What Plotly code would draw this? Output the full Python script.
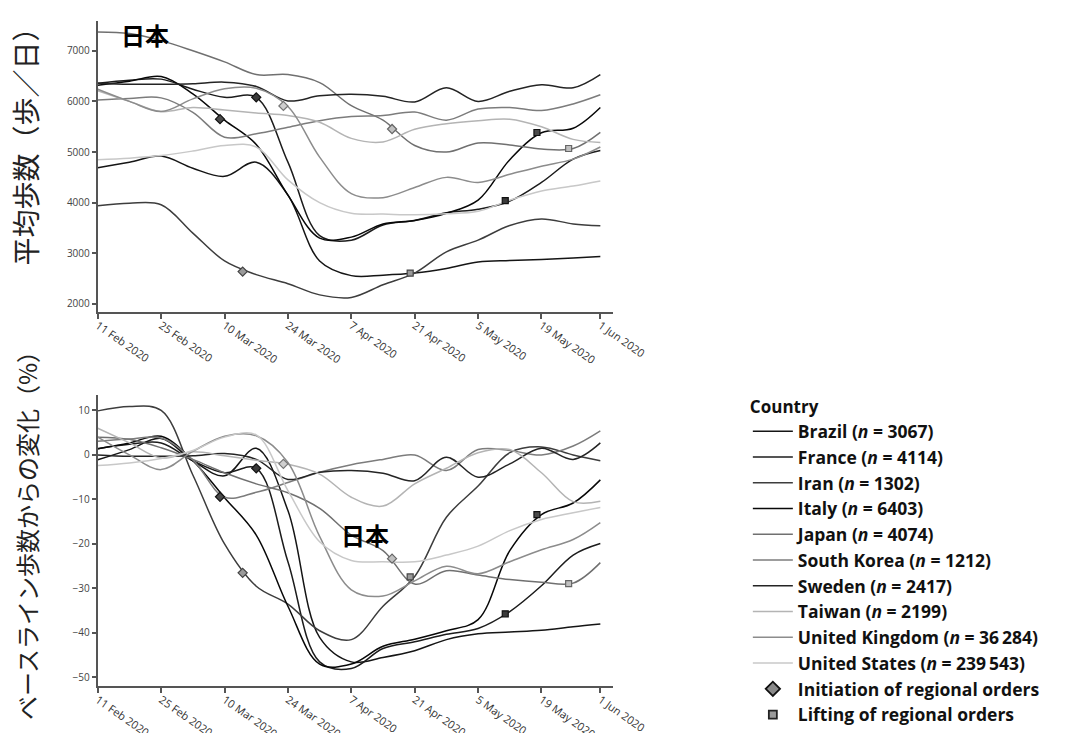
import plotly.graph_objects as go
from plotly.subplots import make_subplots

# ---------------- data ----------------
dates = ["2020-02-11", "2020-02-18", "2020-02-25", "2020-03-03", "2020-03-10", "2020-03-17",
         "2020-03-24", "2020-03-31", "2020-04-07", "2020-04-14", "2020-04-21", "2020-04-28",
         "2020-05-05", "2020-05-12", "2020-05-19", "2020-05-26", "2020-06-01"]

countries = ["Brazil", "France", "Iran", "Italy", "Japan", "South Korea", "Sweden",
             "Taiwan", "United Kingdom", "United States"]
sample_n = ["3067", "4114", "1302", "6403", "4074", "1212", "2417", "2199", "36\u2009284", "239\u2009543"]

# average steps per day (top panel)
brazil_steps = [4690, 4800, 4920, 4680, 4520, 4800, 4150, 2850, 2560, 2570, 2610, 2700, 2830, 2860, 2880, 2910, 2940]
france_steps = [6360, 6420, 6440, 6240, 6080, 6080, 4800, 3350, 3260, 3560, 3650, 3800, 3870, 4030, 4400, 4860, 5030]
iran_steps = [3940, 3990, 3960, 3400, 2850, 2580, 2400, 2180, 2130, 2380, 2610, 3030, 3260, 3550, 3680, 3580, 3545]
italy_steps = [6320, 6400, 6490, 6150, 5630, 5150, 4150, 3300, 3320, 3580, 3650, 3790, 4050, 4850, 5380, 5470, 5880]
japan_steps = [7372, 7340, 7200, 7000, 6780, 6530, 6530, 6372, 5915, 5630, 5130, 5000, 5180, 5140, 5060, 5070, 5390]
korea_steps = [6030, 6060, 6070, 5785, 5294, 5360, 5490, 5620, 5700, 5720, 5790, 5630, 5850, 5880, 5820, 5950, 6130]
sweden_steps = [6360, 6340, 6340, 6350, 6380, 6295, 6010, 6110, 6140, 6100, 5990, 6270, 6000, 6200, 6330, 6270, 6530]
taiwan_steps = [6210, 6000, 5800, 5880, 5830, 5770, 5720, 5589, 5270, 5200, 5450, 5560, 5620, 5650, 5500, 5250, 5190]
uk_steps = [6240, 6000, 5800, 6050, 6250, 6260, 5900, 4900, 4180, 4100, 4300, 4500, 4400, 4560, 4720, 4860, 5100]
us_steps = [4850, 4880, 4930, 5020, 5130, 5100, 4450, 4000, 3790, 3775, 3760, 3780, 3830, 4050, 4230, 4330, 4430]

# percent change from baseline (bottom panel)
brazil_pct = [-1.1, 1.2, 3.7, -1.3, -4.7, 1.5, -12.5, -41.0, -46.5, -45.5, -44.0, -41.5, -40.2, -39.8, -39.4, -38.6, -38.0]
france_pct = [1.4, 2.4, 2.7, -1.3, -4.0, -3.0, -24.0, -46.5, -48.0, -43.5, -42.0, -40.3, -39.0, -35.2, -29.4, -22.5, -19.9]
iran_pct = [9.9, 10.9, 10.0, -4.5, -20.0, -29.5, -33.5, -39.5, -41.5, -34.0, -27.3, -14.0, -7.0, 0.5, 1.8, 0.0, -1.3]
italy_pct = [1.4, 2.7, 4.2, -1.3, -9.6, -18.0, -34.0, -47.0, -47.0, -43.0, -41.4, -39.5, -37.0, -21.5, -13.4, -10.8, -5.6]
japan_pct = [4.0, 3.5, 1.6, -1.0, -4.0, -6.5, -8.5, -12.0, -18.0, -21.5, -29.0, -26.0, -27.0, -28.0, -28.6, -28.8, -24.2]
korea_pct = [3.1, 3.6, 3.8, -1.1, -9.5, -8.4, -6.2, -3.9, -2.2, -1.0, 0.0, -3.5, 1.2, 1.0, 0.0, 2.0, 5.4]
sweden_pct = [0.0, -0.3, -0.3, -0.2, 0.3, -1.0, -5.5, -3.9, -3.5, -4.1, -5.8, -0.5, -5.0, -2.0, 1.5, -1.0, 2.7]
taiwan_pct = [6.0, 2.7, -0.7, 0.7, -0.2, -1.2, -2.1, -4.3, -9.5, -11.5, -6.5, -3.0, 0.5, 1.2, -4.0, -10.5, -10.4]
uk_pct = [4.0, 0.0, -3.3, 0.8, 4.2, 4.3, -1.7, -18.3, -30.3, -31.7, -28.3, -25.0, -26.7, -24.0, -21.3, -19.0, -15.2]
us_pct = [-2.4, -1.8, -0.8, 1.0, 4.0, 4.5, -8.0, -19.5, -23.7, -24.0, -24.0, -22.5, -20.5, -17.0, -14.5, -13.0, -11.8]

steps = [brazil_steps, france_steps, iran_steps, italy_steps, japan_steps, korea_steps,
         sweden_steps, taiwan_steps, uk_steps, us_steps]
pcts = [brazil_pct, france_pct, iran_pct, italy_pct, japan_pct, korea_pct,
        sweden_pct, taiwan_pct, uk_pct, us_pct]

# regional orders
init_country = ["Italy", "France", "United Kingdom", "Iran", "Japan"]
init_dates = ["2020-03-09", "2020-03-17", "2020-03-23", "2020-03-14", "2020-04-16"]
init_steps = [5650, 6080, 5910, 2640, 5455]
init_pct = [-9.4, -3.0, -2.0, -26.5, -23.3]

lift_country = ["Italy", "France", "Iran", "Japan"]
lift_dates = ["2020-05-18", "2020-05-11", "2020-04-20", "2020-05-25"]
lift_steps = [5386, 4040, 2610, 5070]
lift_pct = [-13.4, -35.7, -27.4, -28.9]

tick_dates = ["2020-02-11", "2020-02-25", "2020-03-10", "2020-03-24", "2020-04-07",
              "2020-04-21", "2020-05-05", "2020-05-19", "2020-06-01"]
tick_text = ["11 Feb 2020", "25 Feb 2020", "10 Mar 2020", "24 Mar 2020", "7 Apr 2020",
             "21 Apr 2020", "5 May 2020", "19 May 2020", "1 Jun 2020"]
steps_ticks = [2000, 3000, 4000, 5000, 6000, 7000]
pct_ticks = [-50, -40, -30, -20, -10, 0, 10]

# ---------------- styles ----------------
line_colors = {
    "Brazil": "#151515", "France": "#1c1c1c", "Iran": "#3d3d3d", "Italy": "#080808",
    "Japan": "#707070", "South Korea": "#7c7c7c", "Sweden": "#242424",
    "Taiwan": "#b4b4b4", "United Kingdom": "#8c8c8c", "United States": "#c8c8c8",
}
marker_fill = {"Italy": "#4a4a4a", "France": "#3a3a3a", "United Kingdom": "#cfcfcf",
               "Iran": "#9a9a9a", "Japan": "#c0c0c0"}
marker_edge = {"Italy": "#111111", "France": "#111111", "United Kingdom": "#777777",
               "Iran": "#444444", "Japan": "#666666"}

FONT = "Open Sans, Noto Sans, sans-serif"
CJK = "Noto Sans CJK JP"

fig = make_subplots(rows=2, cols=1)

for i, c in enumerate(countries):
    col = line_colors[c]
    label = f"{c} (<i>n</i> = {sample_n[i]})"
    fig.add_trace(go.Scatter(x=dates, y=steps[i], mode="lines", name=label,
                             line=dict(color=col, width=1.5, shape="spline", smoothing=1.0),
                             legendgroup=c, showlegend=True, hoverinfo="skip"), row=1, col=1)
    fig.add_trace(go.Scatter(x=dates, y=pcts[i], mode="lines", name=label,
                             line=dict(color=col, width=1.5, shape="spline", smoothing=1.0),
                             legendgroup=c, showlegend=False, hoverinfo="skip"), row=2, col=1)

for (yvals, row) in [(init_steps, 1), (init_pct, 2)]:
    fig.add_trace(go.Scatter(x=init_dates, y=yvals, mode="markers", showlegend=False,
                             marker=dict(symbol="diamond", size=7,
                                         color=[marker_fill[c] for c in init_country],
                                         line=dict(color=[marker_edge[c] for c in init_country], width=1.2)),
                             hoverinfo="skip"), row=row, col=1)
for (yvals, row) in [(lift_steps, 1), (lift_pct, 2)]:
    fig.add_trace(go.Scatter(x=lift_dates, y=yvals, mode="markers", showlegend=False,
                             marker=dict(symbol="square", size=6,
                                         color=[marker_fill[c] for c in lift_country],
                                         line=dict(color=[marker_edge[c] for c in lift_country], width=1.2)),
                             hoverinfo="skip"), row=row, col=1)

# legend-only entries for the markers
fig.add_trace(go.Scatter(x=[None], y=[None], mode="markers", name="Initiation of regional orders",
                         marker=dict(symbol="diamond", size=11, color="#8a8a8a",
                                     line=dict(color="#111111", width=1.8))), row=1, col=1)
fig.add_trace(go.Scatter(x=[None], y=[None], mode="markers", name="Lifting of regional orders",
                         marker=dict(symbol="square", size=8, color="#9a9a9a",
                                     line=dict(color="#222222", width=1.8))), row=1, col=1)

xa = dict(type="date", range=["2020-02-11", "2020-06-03 18:00"], tickmode="array",
          tickvals=tick_dates, ticktext=tick_text, tickangle=35,
          showline=True, linecolor="#555555", linewidth=2, ticks="outside", ticklen=5,
          tickcolor="#555555", tickwidth=1.5, showgrid=False, zeroline=False,
          ticklabelstandoff=-4,
          tickfont=dict(family=FONT, size=11, color="#333333"))
fig.update_xaxes(**xa)
fig.update_layout(xaxis=dict(domain=[0.0819, 0.5795]), xaxis2=dict(domain=[0.0819, 0.5795]))

ya = dict(showline=True, linecolor="#555555", linewidth=2, ticks="outside", ticklen=4,
          tickcolor="#555555", tickwidth=1.5, showgrid=False, zeroline=False,
          tickfont=dict(family=FONT, size=10, color="#444444"))
fig.update_yaxes(**ya)
fig.update_layout(
    yaxis=dict(domain=[0.5825, 0.9823], range=[1843, 7590], tickvals=steps_ticks),
    yaxis2=dict(domain=[0.0682, 0.468], range=[-52.0, 13.4], tickvals=pct_ticks),
)

annotations = [
    dict(text="平均歩数（歩／日）", x=13 / 1075, y=1 - 133 / 733, xref="paper", yref="paper",
         xanchor="center", yanchor="middle",
         textangle=-90, showarrow=False, font=dict(family=CJK, size=28, color="#222222")),
    dict(text="ベースライン歩数からの変化（%）", x=14 / 1075, y=1 - 525 / 733, xref="paper", yref="paper",
         xanchor="center", yanchor="middle",
         textangle=-90, showarrow=False, font=dict(family=CJK, size=24, color="#222222")),
    dict(text="<b>日本</b>", x=137 / 1075, y=1 - 27 / 733, xref="paper", yref="paper",
         xanchor="center", yanchor="middle",
         showarrow=False, font=dict(family=CJK, size=24, color="#000000")),
    dict(text="<b>日本</b>", x=366 / 1075, y=1 - 530 / 733, xref="paper", yref="paper",
         xanchor="center", yanchor="middle",
         showarrow=False, font=dict(family=CJK, size=24, color="#000000")),
]

fig.update_layout(
    width=1075, height=733,
    margin=dict(l=0, r=0, t=0, b=0),
    paper_bgcolor="white", plot_bgcolor="white",
    annotations=annotations,
    legend=dict(x=0.71, xanchor="left", y=1 - 386 / 733, yanchor="top",
                title=dict(text="Country", font=dict(family=FONT, size=17, color="#111111")),
                font=dict(family=FONT, size=17.5, color="#111111", weight=700),
                bgcolor="rgba(0,0,0,0)", tracegroupgap=0, itemwidth=40),
    showlegend=True,
)

fig.write_html("out.html")
